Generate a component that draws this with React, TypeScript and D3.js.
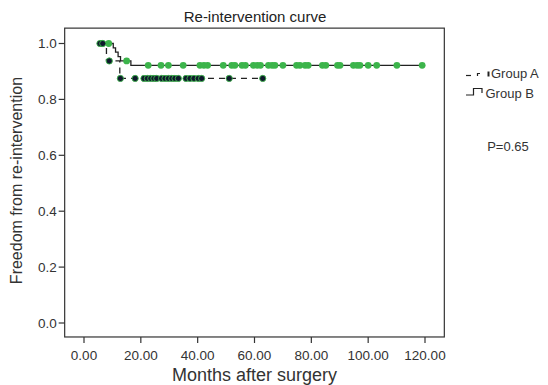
import * as d3 from 'd3';

const width = 548;
const height = 385;

// Group A (dashed): step function + censored marks
const aStepTimes = [5.6, 7.9, 12.6, 62.9];
const aStepSurv = [1.0, 0.9375, 0.875, 0.875];
const aCensored = [
  5.6, 6.6, 8.9, 12.8, 18.0, 21.1, 22.3, 23.5, 24.6, 25.6, 27.3, 28.5, 29.7,
  30.9, 32.0, 33.2, 35.9, 37.3, 38.7, 40.2, 41.4, 51.1, 62.9,
];

// Group B (solid)
const bStepTimes = [6.0, 10.3, 11.1, 12.0, 12.85, 16.5, 119.0];
const bStepSurv = [1.0, 0.984, 0.969, 0.953, 0.9375, 0.922, 0.922];
const bCensored = [
  6.3, 8.7, 15.0, 22.6, 27.1, 29.7, 34.9, 40.8, 42.2, 43.5, 49.0, 52.0, 53.1,
  55.6, 56.8, 59.6, 60.9, 62.1, 64.9, 66.2, 67.2, 70.0, 74.8, 76.0, 77.8, 78.9,
  83.9, 85.1, 89.2, 90.1, 94.8, 96.1, 97.1, 100.0, 103.0, 110.1, 119.0,
];

const xTicks = [0, 20, 40, 60, 80, 100, 120];
const yTicks = [0, 0.2, 0.4, 0.6, 0.8, 1.0];
const groupLabels = ['Group A', 'Group B'];
const pText = 'P=0.65';

const font = '"Liberation Sans", Arial, Helvetica, sans-serif';
const green = '#3cb44b';
const ink = '#222';

const x = d3.scaleLinear([0, 120], [84, 425]);
const y = d3.scaleLinear([0, 1], [323, 43.5]);
const frameX = [-6.8, 126.8];
const frameY = [-0.05, 1.055];

function levelAt(times: number[], surv: number[], t: number) {
  const i = d3.bisectRight(times, t) - 1;
  return surv[Math.max(0, i)];
}

export default function App() {
  const line = d3
    .line<number>()
    .x((d) => x(d))
    .curve(d3.curveStepAfter);

  const pathA = line.y((d, i) => y(aStepSurv[i]))(aStepTimes);
  const pathB = line.y((d, i) => y(bStepSurv[i]))(bStepTimes);

  const left = x(frameX[0]);
  const right = x(frameX[1]);
  const top = y(frameY[1]);
  const bottom = y(frameY[0]);

  return (
    <div style={{ position: 'fixed', left: 0, top: 0 }}>
      <svg width={width} height={height} style={{ display: 'block', background: '#fff' }}>
        <text
          x={255}
          y={22}
          textAnchor="middle"
          fontSize={15}
          fontFamily={font}
          fill={ink}
        >
          Re-intervention curve
        </text>

        <rect
          x={left}
          y={top}
          width={right - left}
          height={bottom - top}
          fill="none"
          stroke="#333"
          strokeWidth={1.2}
        />

        {/* y axis */}
        <g fontFamily={font} fontSize={13.5} fill="#333">
          {yTicks.map((t) => (
            <g key={t}>
              <line x1={left - 6} x2={left} y1={y(t)} y2={y(t)} stroke="#333" strokeWidth={1.2} />
              <text x={left - 8} y={y(t)} dy="0.35em" textAnchor="end">
                {t.toFixed(1)}
              </text>
            </g>
          ))}
        </g>

        {/* x axis */}
        <g fontFamily={font} fontSize={13.5} fill="#333">
          {xTicks.map((t) => (
            <g key={t}>
              <line x1={x(t)} x2={x(t)} y1={bottom} y2={bottom + 6} stroke="#333" strokeWidth={1.2} />
              <text x={x(t)} y={360} textAnchor="middle">
                {t.toFixed(2)}
              </text>
            </g>
          ))}
        </g>

        <text
          x={(left + right) / 2}
          y={381}
          textAnchor="middle"
          fontSize={18}
          fontFamily={font}
          fill="#333"
        >
          Months after surgery
        </text>
        <text
          transform={`translate(22,${(top + bottom) / 2 - 2}) rotate(-90)`}
          textAnchor="middle"
          fontSize={16}
          fontFamily={font}
          fill="#333"
        >
          Freedom from re-intervention
        </text>

        {/* curves */}
        <path d={pathB ?? ''} fill="none" stroke={ink} strokeWidth={1.3} />
        <path d={pathA ?? ''} fill="none" stroke={ink} strokeWidth={1.3} strokeDasharray="6,5" />

        <g fill={green}>
          {bCensored.map((t, i) => (
            <circle key={i} cx={x(t)} cy={y(levelAt(bStepTimes, bStepSurv, t))} r={3.4} />
          ))}
        </g>
        <g fill="#0f1a2c" stroke={green} strokeWidth={0.9}>
          {aCensored.map((t, i) => (
            <circle key={i} cx={x(t)} cy={y(levelAt(aStepTimes, aStepSurv, t))} r={3.1} />
          ))}
        </g>

        {/* legend */}
        <g stroke={ink} strokeWidth={1.2} fill="none">
          <path d="M466,75.5H471" />
          <path d="M477.5,76V73.5H480" />
          <path d="M488.5,71.5V76.5" strokeWidth={2} />
          <path d="M466,95H473.5V88.5H482V93" />
        </g>
        <g fontFamily={font} fontSize={13} fill="#333">
          <text x={491} y={78}>{groupLabels[0]}</text>
          <text x={485.5} y={98}>{groupLabels[1]}</text>
          <text x={508} y={151} textAnchor="middle">{pText}</text>
        </g>
      </svg>
    </div>
  );
}
